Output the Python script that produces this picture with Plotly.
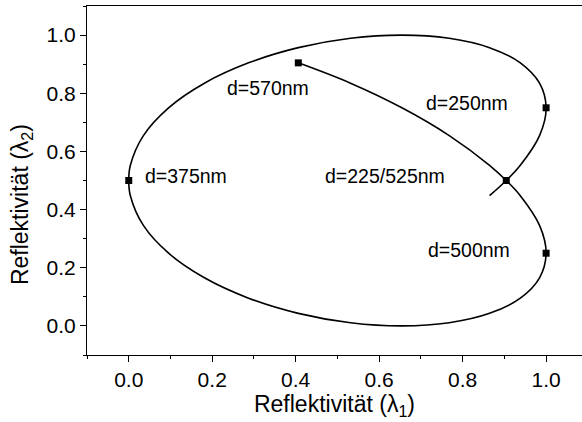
import plotly.graph_objects as go

# Reflectivity at the two wavelengths, traced as the layer thickness d grows
thickness_nm = [220, 225, 230, 240, 250, 260, 270, 280, 290, 300, 310, 320, 330, 340,
                350, 360, 370, 375, 380, 390, 400, 410, 420, 430, 440, 450, 460, 470,
                480, 490, 500, 510, 520, 525, 530, 540, 550, 560, 570]
refl_l1 = [0.8645, 0.9045, 0.9382, 0.9843, 1.0, 0.9843, 0.9382, 0.8645, 0.7679, 0.6545,
           0.5314, 0.4063, 0.2871, 0.1813, 0.0955, 0.0351, 0.0039, 0.0, 0.0039, 0.0351,
           0.0955, 0.1813, 0.2871, 0.4063, 0.5314, 0.6545, 0.7679, 0.8645, 0.9382, 0.9843,
           1.0, 0.9843, 0.9382, 0.9045, 0.8645, 0.7679, 0.6545, 0.5314, 0.4063]
refl_l2 = [0.4477, 0.5, 0.5523, 0.6545, 0.75, 0.8346, 0.9045, 0.9568, 0.9891, 1.0,
           0.9891, 0.9568, 0.9045, 0.8346, 0.75, 0.6545, 0.5523, 0.5, 0.4477, 0.3455,
           0.25, 0.1654, 0.0955, 0.0432, 0.0109, 0.0, 0.0109, 0.0432, 0.0955, 0.1654,
           0.25, 0.3455, 0.4477, 0.5, 0.5523, 0.6545, 0.75, 0.8346, 0.9045]

# Marked thicknesses
marked_l1 = [0.9045, 1.0, 0.0, 1.0, 0.4063]
marked_l2 = [0.5, 0.75, 0.5, 0.25, 0.9045]

# Labels and their anchor points
label_text = ["d=570nm", "d=250nm", "d=375nm", "d=225/525nm", "d=500nm"]
label_x = [0.334, 0.811, 0.034, 0.614, 0.816]
label_y = [0.819, 0.768, 0.514, 0.514, 0.262]
label_anchor = ["center", "center", "left", "center", "center"]

FONT = "Liberation Sans, Arial, sans-serif"

fig = go.Figure()
fig.add_trace(go.Scatter(
    x=refl_l1, y=refl_l2, mode="lines",
    line=dict(color="black", width=1.6, shape="spline", smoothing=1.0),
    hoverinfo="skip", showlegend=False,
))
fig.add_trace(go.Scatter(
    x=marked_l1, y=marked_l2, mode="markers",
    marker=dict(symbol="square", size=7, color="black"),
    showlegend=False,
))

for t, x, y, a in zip(label_text, label_x, label_y, label_anchor):
    fig.add_annotation(x=x, y=y, text=t, showarrow=False, xanchor=a, yanchor="middle",
                       font=dict(family=FONT, size=19.5, color="black"))

# Vertical axis title
fig.add_annotation(xref="paper", yref="paper", x=-0.131, y=0.43,
                   text="Reflektivität (λ<sub>2</sub>)", textangle=-90, showarrow=False,
                   xanchor="center", yanchor="middle",
                   font=dict(family=FONT, size=23, color="black"))

axis_common = dict(
    showgrid=False, zeroline=False, showline=True, linecolor="black", linewidth=1.2,
    ticks="outside", ticklen=6, tickwidth=1.2, tickcolor="black",
    dtick=0.2, tick0=0, tickformat=".1f",
    minor=dict(ticks="outside", ticklen=3, tickwidth=1.2, tickcolor="black", dtick=0.1, tick0=0),
    tickfont=dict(family=FONT, size=21, color="black"),
)

fig.update_xaxes(range=[-0.1, 1.086], mirror=True,
                 title=dict(text="Reflektivität (λ<sub>1</sub>)",
                            font=dict(family=FONT, size=23, color="black"), standoff=4),
                 **axis_common)
fig.update_yaxes(range=[-0.1, 1.1], **axis_common)

fig.update_layout(
    width=582, height=422,
    margin=dict(l=87, r=0, t=6, b=67),
    plot_bgcolor="white", paper_bgcolor="white",
    font=dict(family=FONT, color="black"),
)

fig.write_html("out.html")
